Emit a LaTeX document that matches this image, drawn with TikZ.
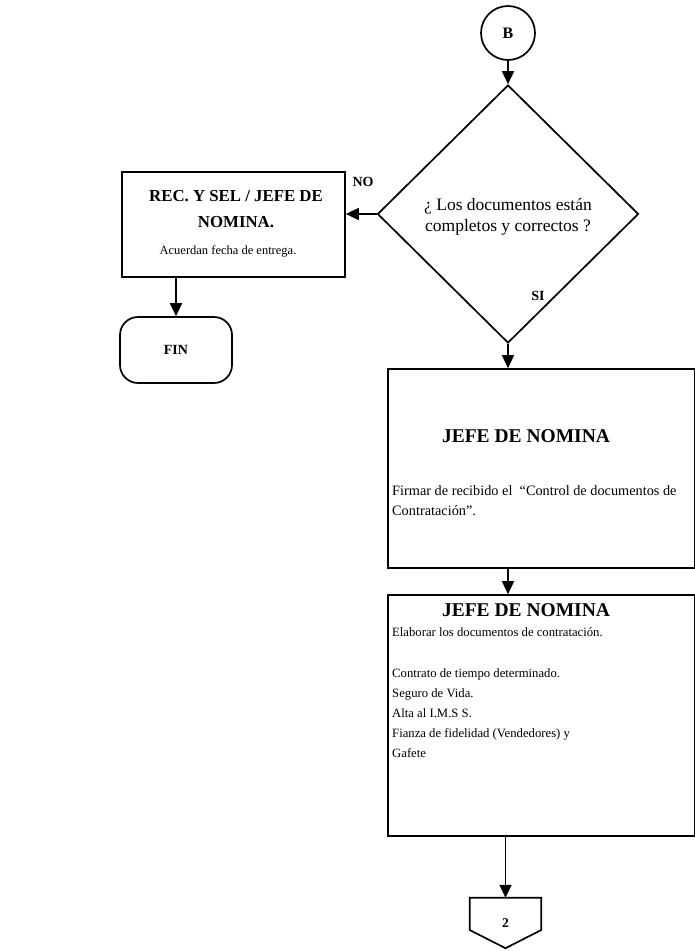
\documentclass[tikz,border=0pt]{standalone}
\usepackage{fontspec}
\setmainfont{Liberation Serif}
\usetikzlibrary{arrows.meta,shapes.geometric,calc}

\newcommand{\hdfont}{\fontsize{19.5}{22}\selectfont\bfseries}
\newcommand{\lhdfont}{\fontsize{16.8}{20}\selectfont\bfseries}
\newcommand{\lblfont}{\fontsize{14}{16}\selectfont\bfseries}

\tikzset{
  outline/.style={draw, line width=1.7pt},
  flow/.style={line width=1.7pt, -{Triangle[length=13pt,width=12pt]}},
  procbox/.style={outline, rectangle, inner sep=0pt},
  txt/.style={inner sep=0pt},
}

\begin{document}
\begin{tikzpicture}[x=1pt,y=-1pt]
\useasboundingbox (0,0) rectangle (695,951);

% connector from previous page
\node[outline, circle, minimum size=54pt, inner sep=0pt] (B) at (508,33) {\fontsize{16}{18}\selectfont\bfseries B};

% decision
\node[outline, diamond, minimum width=261pt, minimum height=258pt, inner sep=0pt] (dec) at (508,214) {};
\node[txt, align=center, font=\fontsize{17.5}{21}\selectfont] (dectext) at (508,217)
      {¿ Los documentos están\\completos y correctos ?};

% NO branch
\node[procbox, minimum width=223pt, minimum height=105pt] (lbox) at (233.5,224.5) {};
\node[txt, font=\lhdfont] (lhead1) at (236,196) {REC. Y SEL / JEFE DE};
\node[txt, font=\lhdfont] (lhead2) at (236,222) {NOMINA.};
\node[txt, font=\fontsize{12.5}{15}\selectfont] (lbody) at (228,251) {Acuerdan fecha de entrega.};

\node[outline, rectangle, rounded corners=18pt, minimum width=112pt, minimum height=66pt,
      inner sep=0pt] (fin) at (176,350) {\lblfont FIN};

\node[txt, font=\lblfont] (nolbl) at (363,182) {NO};
\node[txt, font=\lblfont] (silbl) at (538,296) {SI};

% YES branch
\node[procbox, minimum width=307pt, minimum height=199pt] (box1) at (541.5,468.5) {};
\node[txt, font=\hdfont] (b1head) at (526,436) {JEFE DE NOMINA};
\node[txt, font=\fontsize{14.3}{20}\selectfont, align=left, anchor=north west] (b1body) at (392,485)
  {Firmar de recibido el \ “Control de documentos de\\Contratación”.};

\node[procbox, minimum width=307pt, minimum height=241pt] (box2) at (541.5,715.5) {};
\node[txt, font=\hdfont] (b2head) at (526,610) {JEFE DE NOMINA};
\node[txt, font=\fontsize{12.7}{20}\selectfont, align=left, anchor=north west] (b2body) at (392,627)
  {Elaborar los documentos de contratación.\\[21pt]
   Contrato de tiempo determinado.\\
   Seguro de Vida.\\
   Alta al I.M.S S.\\
   Fianza de fidelidad (Vendedores) y\\
   Gafete};

% off-page connector
\node[txt, minimum width=71pt, minimum height=50pt] (p2) at (505.5,923) {\fontsize{13.5}{15}\selectfont\bfseries 2};
\draw[line width=1.7pt, line join=miter]
  (p2.north west) -- (p2.north east)
  -- ($(p2.north east)!0.64!(p2.south east)$)
  -- (p2.south)
  -- ($(p2.north west)!0.64!(p2.south west)$)
  -- cycle;

% connectors
\draw[flow] (B.south) -- (dec.north);
\draw[flow] (dec.west) -- (lbox.east |- dec.west);
\draw[flow] (fin.north |- lbox.south) -- (fin.north);
\draw[flow] (dec.south) -- (dec.south |- box1.north);
\draw[flow] (dec.south |- box1.south) -- (dec.south |- box2.north);
\draw[flow] (p2.north |- box2.south) -- (p2.north);
\end{tikzpicture}
\end{document}
